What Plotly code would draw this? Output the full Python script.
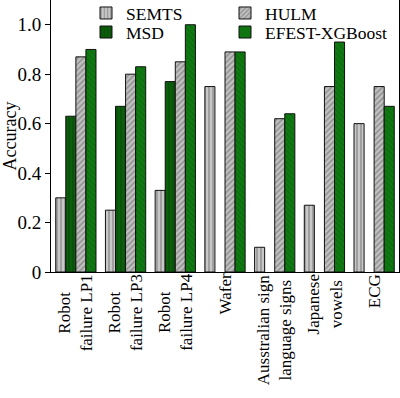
import plotly.graph_objects as go

categories = ["Robot<br>failure LP1", "Robot<br>failure LP3", "Robot<br>failure LP4", "Wafer",
              "Ausstralian sign<br>language signs", "Japanese<br>vowels", "ECG"]
semts = [0.30, 0.25, 0.33, 0.75, 0.10, 0.27, 0.60]
msd = [0.63, 0.67, 0.77, None, None, None, None]
hulm = [0.87, 0.80, 0.85, 0.89, 0.62, 0.75, 0.75]
efest = [0.90, 0.83, 1.00, 0.89, 0.64, 0.93, 0.67]
y_ticks = [0, 0.2, 0.4, 0.6, 0.8, 1.0]
y_ticktext = ["0", "0.2", "0.4", "0.6", "0.8", "1.0"]

FONT = "Liberation Serif, Times New Roman, serif"
x = list(range(len(categories)))

fig = go.Figure()
series = [
    ("SEMTS", semts, "#c8c8c8", "|", "#555555", "legend", 0.1006, 1.018),
    ("MSD", msd, "#0b5e0b", "|", "#063d06", "legend2", 0.1006, 0.948),
    ("HULM", hulm, "#c0c0c0", "/", "#555555", "legend3", 0.5, 1.018),
    ("EFEST-XGBoost", efest, "#0f7a12", "\\", "#0a5a0a", "legend4", 0.5, 0.948),
]
legend_layout = {}
for name, vals, color, shape, fg, leg, lx, ly in series:
    fig.add_trace(go.Bar(
        x=x, y=vals, name=name, legend=leg,
        marker=dict(color=color, line=dict(color="#111111", width=1),
                    pattern=dict(shape=shape, fgcolor=fg, size=4, solidity=0.35)),
    ))
    legend_layout[leg] = dict(x=lx, y=ly, xanchor="left", yanchor="top",
                              orientation="h", font=dict(family=FONT, size=17.5),
                              bgcolor="rgba(0,0,0,0)")

# category labels: rotated, lines centred on one another (as in the reference)
for xi, label in zip(x, categories):
    fig.add_annotation(x=xi, xref="x", y=0, yref="paper", text=label, textangle=-90,
                       showarrow=False, align="center", xanchor="center", yanchor="top",
                       yshift=0, font=dict(family=FONT, size=17, color="black"))

fig.update_layout(
    width=400, height=398,
    margin=dict(l=51, r=1, t=0, b=126, autoexpand=False),
    paper_bgcolor="white", plot_bgcolor="white",
    barmode="group", bargap=0.19, bargroupgap=0,
    font=dict(family=FONT, color="black", size=17),
    showlegend=True,
    xaxis=dict(tickmode="array", tickvals=x, showticklabels=False,
               range=[-0.5, len(categories) - 0.5], showline=True,
               linecolor="black", linewidth=1, mirror=True, ticks=""),
    yaxis=dict(range=[0, 1.1], tickmode="array", tickvals=y_ticks, ticktext=y_ticktext,
               showline=True, linecolor="black", linewidth=1, mirror=True,
               ticks="outside", ticklen=5, tickcolor="black", showgrid=False, zeroline=False,
               tickfont=dict(size=19),
               title=dict(text="Accuracy", font=dict(size=18), standoff=0)),
    **legend_layout,
)

fig.write_html("out.html")
